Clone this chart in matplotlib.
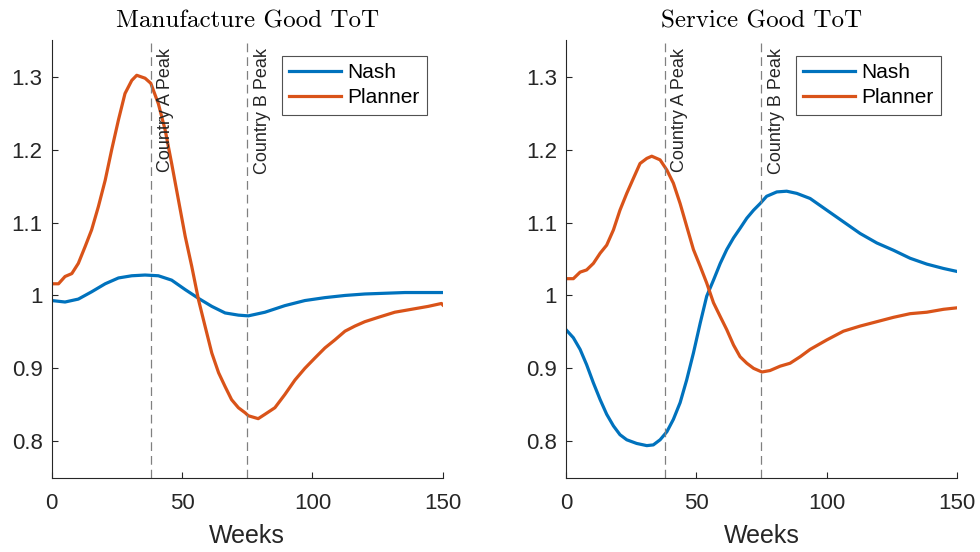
import numpy as np
import matplotlib.pyplot as plt

plt.rcParams['font.family'] = ['Liberation Sans', 'DejaVu Sans']

# weeks and values
man_nash_w = [0, 5.1, 10.2, 15.3, 20.5, 25.6, 30.7, 35.8, 40.9, 46, 51.2, 56.3, 61.4, 66.5, 71.6, 75.4,
              81.8, 89.4, 97.1, 104.8, 112.5, 120.1, 127.8, 135.5, 143.1, 150]
man_nash = [0.993, 0.991, 0.995, 1.005, 1.016, 1.024, 1.027, 1.028, 1.027, 1.021, 1.008, 0.996, 0.985, 0.976,
            0.973, 0.972, 0.977, 0.986, 0.993, 0.997, 1.000, 1.002, 1.003, 1.004, 1.004, 1.004]

man_plan_w = [0, 2.6, 5.1, 7.7, 10.2, 12.8, 15.3, 17.9, 20.5, 23, 25.6, 28.1, 30.7, 32.6, 35.8, 38, 40.9,
              43.5, 46, 48.6, 51.2, 53.7, 56.3, 58.8, 61.4, 64, 66.5, 69, 71.6, 74.2, 75.4, 79.2, 81.8,
              85.6, 89.4, 93.3, 97.1, 100.9, 104.8, 108.6, 112.5, 116.3, 120.1, 125.3, 131.6, 138, 144.4,
              149.5, 150]
man_plan = [1.016, 1.016, 1.026, 1.030, 1.044, 1.067, 1.090, 1.122, 1.158, 1.200, 1.241, 1.277, 1.295,
            1.302, 1.298, 1.291, 1.263, 1.227, 1.181, 1.131, 1.081, 1.040, 0.994, 0.958, 0.921, 0.894,
            0.875, 0.857, 0.846, 0.839, 0.835, 0.831, 0.837, 0.846, 0.864, 0.884, 0.900, 0.914, 0.928,
            0.939, 0.951, 0.958, 0.964, 0.970, 0.977, 0.981, 0.985, 0.989, 0.987]

ser_nash_w = [0, 2.8, 5.4, 7.9, 10.5, 13.1, 15.6, 18.2, 20.7, 23.3, 27.1, 31, 33.5, 36.1, 38.7, 41.2,
              43.8, 46.3, 48.9, 51.5, 54, 56.6, 59.2, 61.7, 64.3, 66.8, 69.4, 72, 74.5, 77, 80.9, 84.7,
              88.6, 93.7, 100.1, 106.5, 112.9, 119.3, 125.7, 132.1, 138.5, 144.9, 150]
ser_nash = [0.953, 0.942, 0.926, 0.905, 0.880, 0.857, 0.837, 0.821, 0.809, 0.802, 0.797, 0.794, 0.795,
            0.802, 0.813, 0.830, 0.853, 0.884, 0.921, 0.962, 0.999, 1.021, 1.044, 1.063, 1.079, 1.092,
            1.106, 1.117, 1.126, 1.136, 1.142, 1.143, 1.140, 1.133, 1.117, 1.101, 1.085, 1.072, 1.062,
            1.051, 1.043, 1.037, 1.033]

ser_plan_w = [0, 2.8, 5.4, 7.9, 10.5, 13.1, 15.6, 18.2, 20.7, 23.3, 25.9, 28.4, 31, 32.9, 36.1, 38.7,
              41.2, 43.8, 46.3, 48.9, 51.5, 54, 56.6, 59.2, 61.7, 64.3, 66.8, 69.4, 72, 75.2, 78.3, 82.2,
              86, 89.9, 93.7, 100.1, 106.5, 112.9, 119.3, 125.7, 132.1, 138.5, 144.9, 150]
ser_plan = [1.023, 1.023, 1.032, 1.035, 1.044, 1.058, 1.069, 1.090, 1.117, 1.140, 1.161, 1.181, 1.188,
            1.191, 1.186, 1.172, 1.154, 1.126, 1.095, 1.063, 1.040, 1.017, 0.990, 0.971, 0.953, 0.932,
            0.916, 0.907, 0.900, 0.895, 0.897, 0.903, 0.907, 0.916, 0.926, 0.939, 0.951, 0.958, 0.964,
            0.970, 0.975, 0.977, 0.981, 0.983]

peaks = [38, 75]
peak_labels = ['Country A Peak', 'Country B Peak']
titles = ['Manufacture Good ToT', 'Service Good ToT']

blue = '#0072BD'
orange = '#D95319'
dark = '#262626'

fig = plt.figure(figsize=(9.8, 5.52), dpi=100)
ax1 = fig.add_axes([0.0528, 0.1346, 0.399, 0.7924])
ax2 = fig.add_axes([0.5776, 0.1346, 0.3987, 0.7924])

data = [(man_nash_w, man_nash, man_plan_w, man_plan), (ser_nash_w, ser_nash, ser_plan_w, ser_plan)]

for ax, (nw, nv, pw, pv), t in zip([ax1, ax2], data, titles):
    ax.plot(nw, nv, color=blue, lw=2.3, label='Nash')
    ax.plot(pw, pv, color=orange, lw=2.3, label='Planner')
    for p, lab in zip(peaks, peak_labels):
        ax.axvline(p, color='#808080', lw=0.9, ls=(0, (7, 4)))
        ax.text(p + 2.4, 1.339, lab, rotation=90, ha='left', va='top', fontsize=13, color=dark)
    ax.set_xlim(0, 150)
    ax.set_ylim(0.75, 1.35)
    ax.set_xticks([0, 50, 100, 150])
    ax.set_yticks([0.8, 0.9, 1.0, 1.1, 1.2, 1.3])
    ax.set_yticklabels(['0.8', '0.9', '1', '1.1', '1.2', '1.3'])
    ax.tick_params(direction='in', length=4, width=0.8, colors=dark, labelsize=16)
    ax.tick_params(axis='y', pad=6.5)
    ax.tick_params(axis='x', pad=11)
    ax.spines['top'].set_visible(False)
    ax.spines['right'].set_visible(False)
    for s in ['left', 'bottom']:
        ax.spines[s].set_color(dark)
        ax.spines[s].set_linewidth(0.8)
    ax.set_xlabel('Weeks', fontsize=18, color=dark, labelpad=7)
    ax.set_title(t, fontsize=18, fontfamily='cmr10', pad=9)
    leg = ax.legend(loc='upper right', fontsize=15, frameon=True, fancybox=False, handlelength=2.5,
                    borderaxespad=0.75, labelspacing=0.3, handletextpad=0.3, borderpad=0.35)
    leg.get_frame().set_edgecolor(dark)
    leg.get_frame().set_linewidth(0.8)

fig.savefig('out.png', dpi=100)
